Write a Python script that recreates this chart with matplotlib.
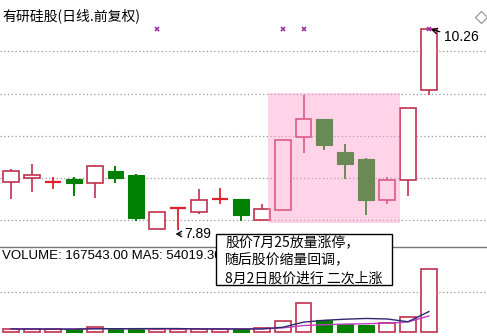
import numpy as np
import pandas as pd
import matplotlib
matplotlib.use("Agg")
import matplotlib.pyplot as plt
from matplotlib.patches import Rectangle

plt.rcParams['font.family'] = ['Noto Sans CJK SC', 'DejaVu Sans']

# ---- data -------------------------------------------------------------
title = "有研硅股(日线.前复权)"
opens = [8.45, 8.50, 8.45, 8.49, 8.44, 8.59, 8.54, 7.90, 8.14, 8.10, 8.25,
         8.25, 8.00, 8.12, 8.99, 9.20, 8.81, 8.73, 8.24, 8.48, 9.54]
highs = [8.61, 8.67, 8.51, 8.51, 8.66, 8.65, 8.55, 8.10, 8.15, 8.37, 8.38,
         8.25, 8.20, 8.95, 9.49, 9.20, 8.90, 8.74, 8.51, 9.33, 10.26]
lows = [8.25, 8.34, 8.37, 8.29, 8.27, 8.44, 7.99, 7.90, 7.89, 8.08, 8.20,
        7.99, 8.00, 8.12, 8.80, 8.83, 8.49, 8.06, 8.20, 8.29, 9.49]
closes = [8.59, 8.54, 8.45, 8.44, 8.65, 8.50, 8.03, 8.10, 8.15, 8.24, 8.25,
          8.07, 8.14, 8.95, 9.20, 8.89, 8.67, 8.24, 8.48, 9.33, 10.26]
volumes = [7500, 7000, 6500, 7000, 12500, 7000, 8000, 7500, 7000, 7500, 6500,
           7000, 9000, 29500, 76300, 31400, 21700, 18900, 22600, 39353.5, 167543]
price_grid = [8.0, 8.5, 9.0, 9.5, 10.0]
vol_grid = [107000]
event_days = [7, 13, 14, 20]          # info markers along the top
highlight_days = (12.3, 18.61)        # shaded pullback window
highlight_prices = (7.97, 9.51)
low_label = "7.89"
high_label = "10.26"
note_lines = ["股价7月25放量涨停，", "随后股价缩量回调，", "8月2日股价进行 二次上涨"]

UP = "#C0304E"
CROSS = "#E0202A"
DOWN = "#008000"
GRID = "#9A9A9A"

W, H = 487, 336
fig = plt.figure(figsize=(W / 100, H / 100), dpi=100)
fig.patch.set_facecolor("white")


def fx(px):
    return px / W


def fy(py):
    return 1 - py / H


split = 247
ax = fig.add_axes([0, fy(split), 1, split / H])
axv = fig.add_axes([0, 0, 1, (H - split) / H])

n = len(opens)
idx = np.arange(n)
bw = 0.76
xlim = (-0.526, 22.78)

# ---- price panel ------------------------------------------------------
for lvl in price_grid:
    ax.axhline(lvl, color=GRID, lw=0.9, ls=(0, (1, 2)), zorder=1)

for i in idx:
    o, h, l, c = opens[i], highs[i], lows[i], closes[i]
    if abs(c - o) < 0.015:
        ax.vlines(i, l, h, color=CROSS, lw=1.3, zorder=3)
        ax.hlines((o + c) / 2, i - bw / 2, i + bw / 2, color=CROSS, lw=1.6, zorder=3)
    elif c > o:
        ax.vlines(i, c, h, color=UP, lw=1.2, zorder=3)
        ax.vlines(i, l, o, color=UP, lw=1.2, zorder=3)
        ax.add_patch(Rectangle((i - bw / 2, o), bw, c - o, facecolor="white",
                               edgecolor=UP, lw=1.2, zorder=4))
    else:
        ax.vlines(i, l, h, color=DOWN, lw=1.4, zorder=3)
        ax.add_patch(Rectangle((i - bw / 2, c), bw, o - c, facecolor=DOWN,
                               edgecolor=DOWN, lw=0.8, zorder=4))

# translucent pink band over the pullback
ax.add_patch(Rectangle((highlight_days[0], highlight_prices[0]),
                       highlight_days[1] - highlight_days[0],
                       highlight_prices[1] - highlight_prices[0],
                       facecolor="#FF99CC", alpha=0.42, lw=0, zorder=5))

ax.plot(event_days, [10.27] * len(event_days), ls="none", marker="x",
        color="#A030A8", ms=3.5, mew=1.2, zorder=6)
ax.plot([0.988], [0.931], transform=ax.transAxes, marker="D", ms=6,
        mfc="white", mec="#9A9A9A", mew=0.9, ls="none", zorder=6)

lo_i = int(np.argmin(lows))
ax.annotate(low_label, xy=(lo_i - 0.12, 7.84), xytext=(lo_i + 0.27, 7.84),
            fontsize=10, family="Liberation Sans", va="center", ha="left",
            arrowprops=dict(arrowstyle="->,head_length=0.35,head_width=0.2",
                            color="black", lw=0.9, shrinkA=0, shrinkB=0),
            zorder=7)
hi_i = int(np.argmax(highs))
ax.annotate(high_label, xy=(hi_i + 0.1, highs[hi_i]), xytext=(hi_i + 0.72, 10.17),
            fontsize=10, family="Liberation Sans", va="center", ha="left",
            arrowprops=dict(arrowstyle="->,head_length=0.35,head_width=0.2",
                            color="black", lw=0.9, shrinkA=1, shrinkB=0),
            zorder=7)

ax.set_xlim(*xlim)
ax.set_ylim(7.686, 10.609)
ax.axis("off")

# ---- volume panel -----------------------------------------------------
vol = pd.Series(volumes, dtype=float)
ma5 = vol.rolling(5, min_periods=1).mean()
ma10 = vol.rolling(10, min_periods=1).mean()

for lvl in vol_grid:
    axv.axhline(lvl, color=GRID, lw=0.9, ls=(0, (1, 2)), zorder=1)

for i in idx:
    o, c = opens[i], closes[i]
    if c >= o - 0.005:
        axv.add_patch(Rectangle((i - bw / 2, 0), bw, volumes[i], facecolor="white",
                                edgecolor=UP, lw=1.2, zorder=3))
    else:
        axv.add_patch(Rectangle((i - bw / 2, 0), bw, volumes[i], facecolor=DOWN,
                                edgecolor=DOWN, lw=0.8, zorder=3))

axv.plot(idx, ma10, color="#C03CC0", lw=1.0, zorder=4)
axv.plot(idx, ma5, color="#2E2A70", lw=1.0, zorder=4)

k = 2685
axv.set_xlim(*xlim)
axv.set_ylim(-4.3 * k, 84.7 * k)
axv.set_xticks([])
axv.set_yticks([])
for s in ("left", "right", "bottom"):
    axv.spines[s].set_visible(False)
axv.spines["top"].set_color("#777777")
axv.spines["top"].set_linewidth(1.0)

# ---- texts ------------------------------------------------------------
fig.text(fx(2), fy(16), title, fontsize=10, va="center", ha="left")
fig.text(fx(2), fy(256),
         f"VOLUME: {volumes[-1]:.2f} MA5: {ma5.iloc[-1]:.2f}",
         fontsize=9.5, family="Liberation Sans", va="center", ha="left")

fig.add_artist(Rectangle((fx(216), fy(285)), fx(392) - fx(216), fy(234) - fy(285),
                         transform=fig.transFigure, facecolor="white",
                         edgecolor="black", lw=1.0, zorder=10))
for j, line in enumerate(note_lines):
    fig.text(fx(225), fy(242 + 18.3 * j), line, fontsize=10, va="center",
             ha="left", zorder=11)

fig.savefig("out.png", dpi=100)
